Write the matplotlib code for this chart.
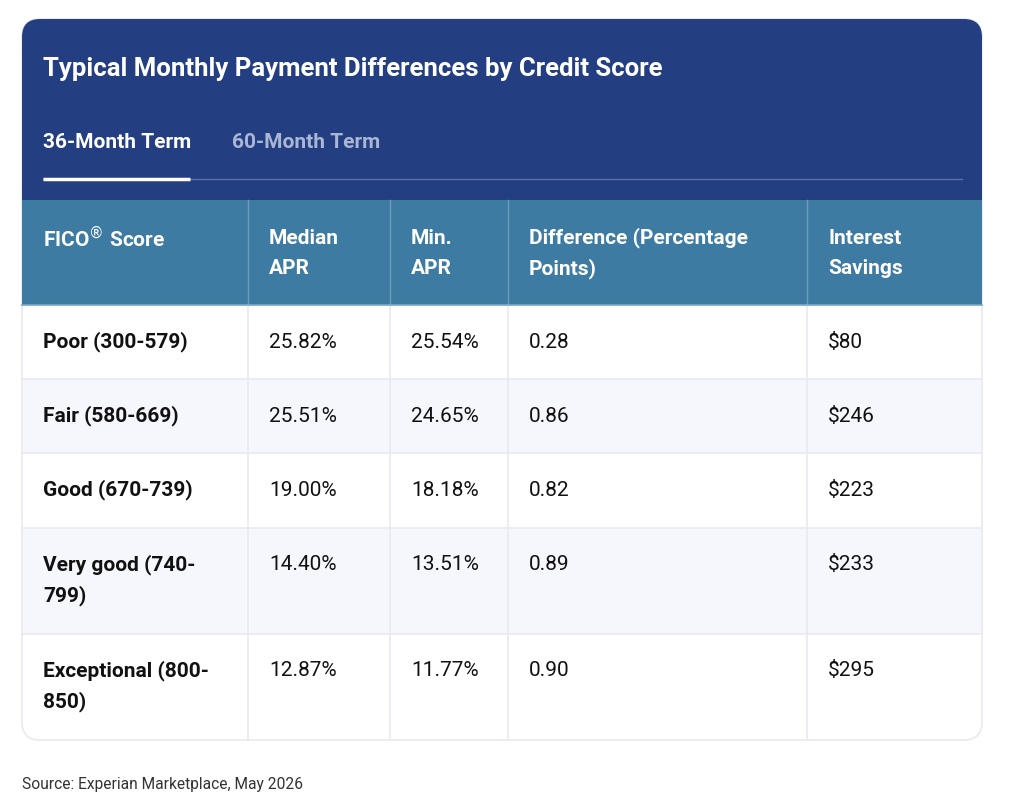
import matplotlib.pyplot as plt
from matplotlib.patches import Rectangle, FancyBboxPatch

plt.rcParams['font.family'] = ['Roboto', 'DejaVu Sans']

# chart content
title = "Typical Monthly Payment Differences by Credit Score"
tabs = ["36-Month Term", "60-Month Term"]
columns = ["FICO$^{\\circledR}$ Score", "Median\nAPR", "Min.\nAPR",
           "Difference (Percentage\nPoints)", "Interest\nSavings"]
score_bands = ["Poor (300-579)", "Fair (580-669)", "Good (670-739)",
               "Very good (740-\n799)", "Exceptional (800-\n850)"]
median_apr = ["25.82%", "25.51%", "19.00%", "14.40%", "12.87%"]
min_apr = ["25.54%", "24.65%", "18.18%", "13.51%", "11.77%"]
difference = ["0.28", "0.86", "0.82", "0.89", "0.90"]
savings = ["$80", "$246", "$223", "$233", "$295"]
source = "Source: Experian Marketplace, May 2026"

# layout in pixels
W, H = 1024, 802
card_l, card_r, card_t, card_b = 22, 982, 19, 740
head_b = 200
colhead_b = 305
col_x = [22, 248, 390, 508, 807, 982]
row_y = [305, 379, 453, 528, 634, 740]
pad = 21
line_h = 31
fs = 15

navy = "#233f82"
teal = "#3d7ba3"
stripe = "#f6f7fc"
grid = "#e8eaf0"

fig = plt.figure(figsize=(W / 100, H / 100), dpi=100)
ax = fig.add_axes([0, 0, 1, 1])
ax.set_xlim(0, W)
ax.set_ylim(H, 0)
ax.axis('off')

card = FancyBboxPatch((card_l, card_t), card_r - card_l, card_b - card_t,
                      boxstyle="round,pad=0,rounding_size=18",
                      facecolor="white", edgecolor=grid, linewidth=1.2, zorder=1)
ax.add_patch(card)

clip = FancyBboxPatch((card_l, card_t), card_r - card_l, card_b - card_t,
                      boxstyle="round,pad=0,rounding_size=18",
                      facecolor="none", edgecolor="none")
ax.add_patch(clip)

top = Rectangle((card_l, card_t), card_r - card_l, head_b - card_t,
                facecolor=navy, edgecolor="none", zorder=2)
ax.add_patch(top)
top.set_clip_path(clip)

ax.add_patch(Rectangle((card_l, head_b), card_r - card_l, colhead_b - head_b,
                       facecolor=teal, edgecolor="none", zorder=2))

# striped rows
for i in range(len(score_bands)):
    if i % 2 == 1:
        r = Rectangle((card_l + 1, row_y[i]), card_r - card_l - 2, row_y[i + 1] - row_y[i],
                      facecolor=stripe, edgecolor="none", zorder=2)
        ax.add_patch(r)
        r.set_clip_path(clip)

# grid lines
for y in row_y[1:-1]:
    ax.plot([card_l, card_r], [y, y], color=grid, lw=1.2, zorder=3)
for x in col_x[1:-1]:
    ax.plot([x, x], [head_b, colhead_b], color="#6f9cbc", lw=1, zorder=3)
    ax.plot([x, x], [colhead_b, card_b], color=grid, lw=1.2, zorder=3)
ax.plot([card_l, card_r], [colhead_b, colhead_b], color="#7aa6c4", lw=1.2, zorder=3)

# title and tabs
ax.text(43, 69, title, color="white", fontsize=18.5, fontweight="bold",
        va="center", ha="left", zorder=4)
ax.text(43, 142, tabs[0], color="white", fontsize=fs, fontweight="bold",
        va="center", ha="left", zorder=4)
ax.text(232, 142, tabs[1], color="#aab7d4", fontsize=fs, fontweight="bold",
        va="center", ha="left", zorder=4)
ax.plot([43, 962], [179, 179], color="#5a70a6", lw=1, zorder=4)
ax.plot([43, 190], [179, 179], color="white", lw=2.5, solid_capstyle="butt", zorder=5)

# column headers
for j, name in enumerate(columns):
    for k, ln in enumerate(name.split("\n")):
        ax.text(col_x[j] + pad, 238 + k * line_h, ln, color="white", fontsize=fs,
                fontweight="bold", va="center", ha="left", zorder=4)

# body
data_cols = [score_bands, median_apr, min_apr, difference, savings]
for j, col in enumerate(data_cols):
    for i, val in enumerate(col):
        y0 = row_y[i] + 37
        for k, ln in enumerate(val.split("\n")):
            ax.text(col_x[j] + pad, y0 + k * line_h, ln, color="#111111",
                    fontsize=fs, fontweight="bold" if j == 0 else "normal",
                    va="center", ha="left", zorder=4)

ax.text(22, 785, source, color="#333333", fontsize=11.2, va="center", ha="left")

fig.savefig("out.png", dpi=100)
